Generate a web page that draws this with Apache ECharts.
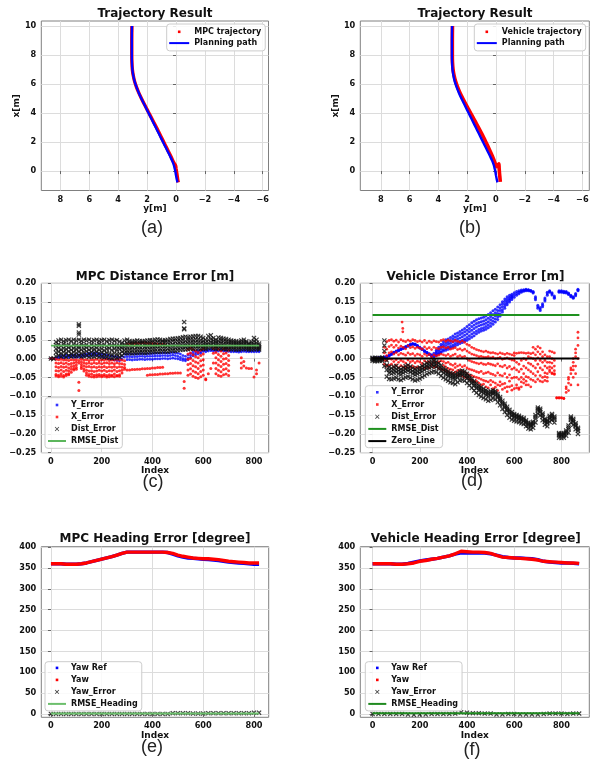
<!DOCTYPE html>
<html>
<head>
<meta charset="utf-8">
<script src="https://cdn.jsdelivr.net/npm/echarts@6/dist/echarts.min.js"></script>
<style>
  html, body { margin: 0; padding: 0; background: #ffffff; }
  #chart { width: 594px; height: 764px; }
</style>
</head>
<body>
<div id="chart"></div>
<script>
const _ = null;

// ---------- (a)/(b) trajectories: y[m] (horizontal), x[m] (vertical) ----------
const PLAN_X = [10.0, 9.0, 8.0, 7.5, 7.0, 6.6, 6.2, 5.8, 5.4, 5.0, 4.6, 4.2, 3.8, 3.4, 3.0, 2.6, 2.2, 1.8, 1.4, 1.0, 0.7, 0.4, 0.2, 0.0, -0.3, -0.6, -0.78];
const PLAN_Y = [3.05, 3.06, 3.06, 3.05, 3.02, 2.96, 2.87, 2.74, 2.58, 2.40, 2.20, 2.00, 1.80, 1.60, 1.40, 1.20, 1.00, 0.80, 0.60, 0.40, 0.26, 0.15, 0.10, 0.05, 0.0, -0.06, -0.10];
const MPC_X = [10.0, 9.0, 8.0, 7.5, 7.0, 6.6, 6.2, 5.8, 5.4, 5.0, 4.6, 4.2, 3.8, 3.4, 3.0, 2.6, 2.2, 1.8, 1.4, 1.0, 0.7, 0.5, 0.35, 0.2, 0.0, -0.3, -0.6, -0.78];
const MPC_Y = [3.05, 3.06, 3.06, 3.05, 3.02, 2.96, 2.87, 2.74, 2.58, 2.39, 2.19, 1.98, 1.77, 1.56, 1.35, 1.15, 0.95, 0.75, 0.55, 0.35, 0.21, 0.10, 0.02, 0.0, -0.03, -0.08, -0.12, -0.16];
const VEH_X = [10.0, 9.0, 8.0, 7.5, 7.0, 6.6, 6.2, 5.8, 5.4, 5.0, 4.6, 4.2, 3.8, 3.4, 3.0, 2.6, 2.2, 1.8, 1.4, 1.0, 0.7, 0.5, 0.3, 0.5, 0.2, -0.2, -0.5, -0.75];
const VEH_Y = [3.02, 3.03, 3.03, 3.02, 2.98, 2.91, 2.81, 2.67, 2.50, 2.30, 2.09, 1.87, 1.65, 1.43, 1.21, 1.00, 0.80, 0.60, 0.42, 0.24, 0.12, 0.04, -0.05, -0.20, -0.22, -0.25, -0.28, -0.30];

// ---------- (c) MPC distance error, one value per 10 samples, in mm ----------
const STEP_C = 10;
const DIST_C1 = [0,0,44,48,50,46,49,50,47,50, 48,50,47,50,48,50,46,49,50,47, 49,50,46,49,50,47,49,45,42,48, 50,47,45,47,48,47,46,47,48,49, 48,50,51,50,48,49,50,52,53,53, 54,55,57,58,57,58,59,60,60,58, 55,50,60,62,55,50,56,55,53,52, 50,48,47,46,45,48,50,46,40,45, 55,50,40];
const DIST_C2 = [_,_,36,38,34,39,35,37,33,38, 36,34,39,35,37,33,38,34,36,39, 35,37,33,38,35,36,34,33,35,38, 40,41,39,42,40,41,42,40,41,42, 43,42,44,43,45,44,43,44,46,45, 46,47,48,47,49,50,49,51,50,49, 47,42,50,52,48,44,47,48,46,45, 44,43,42,41,40,42,44,42,38,40, 46,42,35];
const DIST_C3 = [_,_,26,28,24,27,25,29,23,27, 25,28,24,26,29,23,27,25,28,24, 26,22,25,27,23,26,24,25,28,30, 31,32,30,33,31,32,33,31,32,34, 33,34,35,34,36,35,34,36,37,36, 38,39,40,39,41,42,41,43,42,41, 40,36,42,44,41,38,40,41,39,38, 38,37,36,36,35,37,38,36,33,35, 38,36,30];
const DIST_C4 = [_,_,16,18,14,17,15,19,13,17, 15,18,14,16,19,13,17,15,18,14, 16,12,15,13,11,14,12,13,18,22, 22,23,22,24,23,24,24,23,24,25, 25,26,27,26,27,27,26,28,29,28, 30,31,32,31,33,34,33,35,34,33, 33,30,35,37,34,32,33,34,32,31, 31,31,30,30,29,31,32,30,28,29, 31,30,27];
const DIST_C5 = [_,_,6,8,5,7,4,8,5,7, 6,8,5,6,8,4,6,5,7,4, 5,3,4,2,1,3,2,4,8,14, 14,15,14,15,15,16,16,15,16,17, 17,18,18,18,19,19,18,20,21,20, 22,23,24,24,25,26,26,27,27,26, 27,25,28,29,27,26,27,27,26,25, 25,25,25,24,24,25,26,25,24,24, 25,25,24];
const DIST_C_SPIKES = [[110, 91], [110, 87], [110, 69], [110, 64], [525, 97], [525, 80], [525, 78]];

const YERR_C1 = [0,0,2,6,8,7,9,8,10,9, 8,10,9,11,12,14,13,15,14,13, 12,11,10,8,7,5,4,2,6,12, 12,12,11,12,12,13,13,12,13,13, 13,14,14,14,15,15,14,15,16,15, 14,12,8,6,10,14,18,20,21,22, 23,22,24,25,24,23,24,25,24,23, 23,22,22,21,21,22,23,22,21,21, 22,22,21];
const YERR_C2 = [_,_,0,2,3,2,4,3,5,4, 3,5,4,6,7,8,7,9,8,7, 5,3,1,-1,-2,-4,-5,-6,-2,4, 5,5,4,5,5,6,6,5,6,6, 6,7,7,7,8,8,7,8,9,8, 6,3,0,-2,2,8,12,15,17,18, 19,18,20,21,20,19,20,21,20,19, 19,18,18,18,17,18,19,18,18,18, 18,18,18];
const YERR_C3 = [_,_,_,_,_,_,_,_,_,_, _,_,_,_,_,_,_,_,_,_, _,_,_,_,_,_,_,_,_,_, -3,-3,-4,-3,-3,-2,-2,-3,-2,-2, -2,-1,-1,-1,0,0,-1,0,1,0, -1,-3,-5,-6,-3,2,7,10,12,14, _,_,_,_,_,_,_,_,_,_, _,_,_,_,_,_,_,_,_,_, _,_,_];

const XERR_C1 = [0,0,-2,-3,-2,-4,-3,-5,-3,-4, -3,-5,-2,-4,-3,-5,-3,-4,-2,-5, -3,-4,-2,-5,-3,-4,-2,-3,-4,-6, 38,39,40,40,41,41,42,42,41,41, 40,40,39,38,38,37,_,_,_,_, _,_,_,_,25,28,24,20,16,22, 26,_,_,_,27,30,25,20,26,28, 22,_,_,_,_,_,_,_,_,_, _,_,_];
const XERR_C2 = [_,_,-12,-13,-11,-14,-12,-15,-13,-12, -10,-12,-9,-11,-13,-12,-14,-11,-13,-12, -14,-12,-11,-13,-12,-14,-11,-13,-14,-16, -30,-30,-29,-29,-28,-28,-27,-27,-26,-26, -25,-25,-24,-24,-23,_,_,_,_,_, _,_,_,_,12,15,10,5,2,8, 12,_,_,_,14,16,11,6,13,15, 8,_,_,_,_,2,_,_,_,_, _,_,_];
const XERR_C3 = [_,_,-22,-24,-21,-23,-22,-25,-21,-20, -17,_,-16,-19,-22,-21,-23,-22,-24,-22, -23,-21,-24,-22,-23,-21,-24,-22,-23,-24, _,_,_,_,_,_,_,_,-44,-43, -43,-42,-42,-41,-41,-40,-40,-39,-39,-38, -38,-38,_,_,-2,0,-5,-9,-12,-6, -3,-54,-40,-26,-12,2,-3,-8,-1,0, -5,_,_,_,_,-12,-8,-25,-26,-26, -49,-30,-12];
const XERR_C4 = [_,_,-32,-33,-30,-34,-31,-33,-28,-26, -24,_,-22,-27,-31,-33,-32,-34,-33,-31, -33,-31,-34,-32,-33,-30,-34,-32,-31,-28, _,_,_,_,_,_,_,_,_,_, _,_,_,_,_,_,_,_,_,_, _,_,_,_,-16,-13,-19,-22,-26,-20, -17,-56,_,_,_,-12,-17,-21,-15,-13, -18,_,_,_,_,-25,-20,_,_,_, _,-40,_];
const XERR_C5 = [_,_,-42,-44,-40,-45,-41,-43,-36,-30, -28,_,-26,-33,-38,-42,-41,-44,-43,-42, -44,-42,-45,-43,-44,-41,-45,-43,-38,_, _,_,_,_,_,_,_,_,_,_, _,_,_,_,_,_,_,_,_,_, _,_,_,_,-30,-27,-33,-36,-40,-34, -30,_,_,_,_,-26,-31,-35,-29,-27, -32,_,_,_,_,_,_,_,_,_, _,_,_];
const XERR_C6 = [_,_,-46,-48,-47,-49,-45,-40,_,_, _,_,_,_,-44,-47,-48,-49,-48,-47, -48,-47,-49,-48,-47,-48,-46,-47,_,_, _,_,_,_,_,_,_,_,_,_, _,_,_,_,_,_,_,_,_,_, _,_,_,_,-44,-41,-47,-50,-52,-48, -44,_,_,_,_,-40,-45,-47,-43,-41, -45,_,_,_,_,_,_,_,_,_, _,_,_];
const XERR_C_SPIKES = [[110, -63], [110, -85], [525, -61], [525, -79]];
const RMSE_C = 0.0345;
const END_C = 820;

// ---------- (d) vehicle distance error, one value per 10 samples, in mm ----------
const STEP_D = 10;
const YERR_D1 = [1,2,2,3,3,4,6,9,13,17, 20,23,26,29,32,35,38,40,39,35, 30,26,21,17,13,10,14,22,30,38, 45,50,52,56,60,65,68,72,76,80, 85,90,95,99,103,106,108,110,113,117, 122,127,131,137,143,151,158,164,168,171, 175,178,180,182,183,184,183,181,178,164, 142,136,146,161,176,180,175,166,_,180, 180,179,178,174,168,164,173,184];
const YERR_D2 = [0,0,1,1,2,3,5,8,12,16, 19,22,25,28,31,34,37,39,38,34, 29,25,20,16,12,8,9,14,20,26, 32,35,38,41,45,49,52,55,58,62, 66,71,75,80,84,87,89,91,94,98, 103,108,114,120,128,138,146,153,159,164, 169,173,176,179,181,182,182,180,176,160, 138,132,142,157,172,178,172,163,_,178, 178,177,176,172,166,162,170,182];
const YERR_D3 = [-1,-1,0,0,1,2,4,7,11,15, 18,21,24,27,30,33,36,38,37,33, 28,24,19,15,11,6,5,8,12,16, 20,22,25,28,31,34,37,40,43,46, 49,53,57,61,66,70,73,75,78,82, 86,91,97,104,113,124,134,143,150,157, 163,168,172,176,179,180,180,179,174,156, 134,128,138,153,168,176,169,160,_,176, 176,175,174,170,164,160,167,180];
const YERR_D4 = [_,_,_,_,_,_,_,_,_,_, _,_,_,_,_,_,_,_,_,_, _,_,_,_,_,_,_,18,25,33, 38,42,45,48,53,57,60,64,67,71, 75,80,85,89,93,96,98,100,103,107, 112,117,122,128,135,145,152,158,163,167, _,_,_,_,_,_,_,_,_,_, _,_,_,_,_,_,_,_,_,_, _,_,_,_,_,_,_,_];
const YERR_D5 = [_,_,_,_,_,_,_,_,_,_, _,_,_,_,_,_,_,_,_,_, _,_,_,_,_,_,_,10,15,19, 24,27,30,33,36,40,43,46,49,52, 56,61,65,69,73,77,80,82,85,89, 94,99,105,111,119,130,140,148,155,161, _,_,_,_,_,_,_,_,_,_, _,_,_,_,_,_,_,_,_,_, _,_,_,_,_,_,_,_];

const XERR_D1 = [0,0,1,0,2,30,45,48,50,46, 49,44,50,47,45,49,46,50,48,45, 47,44,48,42,46,43,47,45,44,48, 50,46,49,47,45,48,46,44,47,43, 38,35,30,27,24,22,20,18,20,17, 15,16,14,12,15,13,11,14,12,10, 15,14,15,16,15,14,15,13,30,25, 32,28,18,10,5,20,18,15,-105,-104, -105,-106,-90,-65,-40,-10,25,70];
const XERR_D2 = [_,_,_,_,_,15,25,32,36,30, 35,28,33,30,26,34,29,31,27,30, 28,25,31,26,29,24,30,27,26,30, 31,28,30,25,27,29,24,26,22,25, 20,16,12,10,8,5,6,4,3,5, 2,4,0,1,3,-2,0,2,-1,-4, 8,-10,-15,-5,0,-3,5,2,15,10, 18,12,5,-5,-10,5,0,-5,-104,-105, -104,-106,-75,-55,-30,0,15,55];
const XERR_D3 = [_,_,_,_,_,-5,8,15,18,12, 16,10,14,12,9,15,11,13,8,12, 10,6,12,8,11,5,10,7,9,12, 10,8,11,6,9,12,5,8,4,6, 0,-5,-8,-10,-12,-14,-12,-15,-16,-13, -15,-17,-19,-14,-20,-22,-18,-25,-21,-28, -5,-30,-35,-28,-20,-25,-12,-15,0,-5, 2,-5,-10,-20,-25,-10,-12,-20,_,_, _,_,-80,-50,-25,-20,5,35];
const XERR_D4 = [_,_,_,_,_,-15,-5,0,-2,-8, -3,-10,-5,-8,-12,-4,-9,-6,-11,-7, -9,-13,-6,-10,-8,-14,-7,-11,-9,-6, -8,-12,-10,-15,-18,-14,-20,-17,-22,-19, -25,-28,-30,-32,-35,-37,-34,-40,-38,-36, -40,-42,-45,-38,-44,-46,-40,-50,-43,-52, -25,-50,-55,-50,-40,-48,-30,-35,-20,-25, -15,-25,-30,-38,-40,-22,-25,-32,_,_, _,_,_,-85,-70,-30,-20,0];
const XERR_D5 = [_,_,_,_,_,_,-20,-18,-15,-22, -17,-24,-19,-22,-25,-18,-23,-20,-25,-22, -24,-20,-26,-22,-25,-18,-23,-21,-26,-28, -30,-33,-35,-38,-40,-36,-44,-42,-46,-50, -50,-55,-58,-62,-60,-65,-70,-68,-75,-78, -70,-80,-76,-85,-72,-82,-78,-88,-75,-84, -50,-70,-78,-75,-65,-70,-50,-55,-40,-45, -35,-45,-50,-58,-60,-35,-40,-42,_,_, _,_,_,_,_,-50,-40,-70];
const XERR_D6 = [_,_,_,_,_,_,_,_,_,_, _,_,_,_,_,_,_,_,_,_, _,_,_,_,_,_,_,_,_,_, -18,-22,-26,-28,-30,-24,-32,-30,-34,-36, -40,-43,-45,-48,-50,-52,-55,-58,-60,-62, -58,-62,-65,-70,-62,-68,-66,-75,-60,-72, -80,-78,-82,-62,-55,-60,-70,-75,-58,-62, -55,-60,-62,-48,-50,-30,-38,-40,_,_, _,_,_,_,_,_,_,_];
const XERR_D_SPIKES = [[125, 97], [128, 80], [128, 71]];

const DIST_D1 = [2,2,1,2,3,48,-5,-22,-25,-22, -20,-25,-28,-24,-20,-18,-21,-25,-28,-26, -24,-20,-16,-12,-10,-8,-6,-8,-12,-18, -25,-29,-34,-38,-40,-42,-38,-34,-32,-34, -40,-46,-53,-60,-66,-72,-76,-80,-84,-88, -87,-84,-86,-94,-102,-112,-120,-128,-136,-142, -147,-150,-152,-156,-158,-164,-170,-172,-168,-150, -130,-133,-146,-160,-164,-152,-147,-154,_,-198, -199,-198,-191,-178,-154,-160,-172,-184];
const DIST_D2 = [0,-1,-1,-1,0,35,-18,-30,-32,-30, -28,-32,-35,-31,-28,-26,-29,-33,-36,-34, -31,-27,-23,-19,-17,-15,-13,-15,-19,-25, -31,-35,-40,-44,-46,-49,-44,-40,-38,-40, -46,-52,-59,-66,-72,-78,-82,-86,-90,-94, -92,-89,-91,-99,-107,-117,-125,-133,-141,-147, -151,-154,-156,-160,-162,-168,-174,-176,-172,-155, -134,-137,-150,-164,-168,-156,-151,-158,_,-201, -202,-201,-195,-183,-158,-164,-176,-188];
const DIST_D3 = [-2,-3,-3,-3,-2,20,-30,-38,-40,-38, -36,-40,-42,-38,-35,-33,-36,-40,-43,-41, -38,-34,-30,-26,-24,-22,-20,-22,-26,-32, -38,-42,-46,-50,-52,-55,-50,-45,-44,-46, -52,-58,-65,-72,-78,-84,-88,-92,-96,-100, -98,-94,-96,-104,-112,-122,-130,-138,-146,-152, -156,-158,-160,-164,-166,-172,-178,-180,-176,-160, -138,-142,-155,-168,-172,-160,-155,-162,_,-204, -205,-204,-198,-188,-162,-168,-180,-192];
const DIST_D4 = [-6,-7,-7,-6,-6,-20,-48,-54,-55,-53, -51,-55,-57,-53,-50,-48,-51,-55,-58,-56, -53,-49,-45,-41,-38,-36,-34,-36,-40,-46, -51,-55,-59,-63,-65,-68,-63,-58,-57,-59, -65,-71,-78,-85,-91,-97,-101,-105,-108,-112, -110,-106,-108,-116,-124,-134,-142,-150,-157,-162, -165,-167,-169,-172,-174,-180,-186,-188,-184,-170, -146,-151,-164,-176,-180,-168,-163,-170,_,-210, -211,-210,-205,-197,-170,-176,-188,-200];
const RMSE_D = 0.1155;
const END_D = 876;

// ---------- (e)/(f) heading, degrees ----------
const STEP_E = 20;
const YAW_REF_E = [360,360,360,359,359,359,360,362,365,368, 371,374,377,381,385,388,388,388,388,388, 388,388,388,387,383,379,376,374,373,372, 371,370,369,368,366,364,363,362,361,360, 359,359];
const YAW_E = [360,360,360,359,359,359,360,362,365,368, 371,374,377,381,385,388,388,388,388,388, 388,388,388,387,385,381,378,376,374,373, 372,372,371,370,368,366,365,364,363,362, 362,362];
const YAW_ERR_E = [0,0,0,0,0,0,0,0,0,0, 0,0,0,0,0,0,0,0,0,0, 0,0,0,0,2,2,2,2,1,1, 1,2,2,2,2,2,2,2,2,2, 3,3];
const RMSE_E = 1.3;

const STEP_F = 25;
const YAW_REF_F = [360,360,360,360,359,359,361,364,367,369, 371,373,376,379,383,386,386,386,386,386, 384,381,377,375,374,374,373,372,370,366, 364,363,362,362,361,360];
const YAW_F = [360,360,360,360,359,359,360,362,366,368, 371,373,376,379,384,390,389,388,388,387, 385,380,376,375,374,373,372,371,369,366, 365,364,363,362,362,361];
const YAW_ERR_F = [0,0,0,0,0,0,-1,-2,-1,-1, 0,0,0,0,1,4,3,2,2,1, 1,-1,-1,0,0,-1,-1,-1,-1,0, 1,1,1,0,1,1];
const RMSE_F = 1.5;

// ---------- tick labels ----------
const TICKS_TRAJ_H = [8, 6, 4, 2, 0, -2, -4, -6];
const TICKS_TRAJ_V = [0, 2, 4, 6, 8, 10];
const TICKS_INDEX = [0, 200, 400, 600, 800];
const TICKS_DIST = [-0.25, -0.2, -0.15, -0.1, -0.05, 0, 0.05, 0.1, 0.15, 0.2];
const TICKS_HEAD = [0, 50, 100, 150, 200, 250, 300, 350, 400];

const TITLES = ['Trajectory Result', 'Trajectory Result', 'MPC Distance Error [m]', 'Vehicle Distance Error [m]', 'MPC Heading Error [degree]', 'Vehicle Heading Error [degree]'];
const CAPTIONS = ['(a)', '(b)', '(c)', '(d)', '(e)', '(f)'];

// ---------- helpers ----------
const FONT = 'DejaVu Sans';
const BLUE = '#0000ff', RED = '#ff0000', BLACK = '#000000';
const minus = s => String(s).replace('-', '\u2212');

function layerPoints(step, layers) {
  const out = [];
  layers.forEach(layer => layer.forEach((v, i) => { if (v !== null) out.push([i * step, v / 1000]); }));
  return out;
}
const mm = list => list.map(p => [p[0], p[1] / 1000]);
const zip = (a, b) => a.map((v, i) => [v, b[i]]);
const series1d = (step, arr) => arr.map((v, i) => [i * step, v]);

// filled "x" marker
const XMARK = 'path://M0,0.85L0.85,0L2.5,1.65L4.15,0L5,0.85L3.35,2.5L5,4.15L4.15,5L2.5,3.35L0.85,5L0,4.15L1.65,2.5Z';
function dotIcon(w, h) {
  const cx = w / 2, cy = h / 2, r = 1.3;
  return `path://M0,0M${w},${h}M${cx - r},${cy - r}L${cx + r},${cy - r}L${cx + r},${cy + r}L${cx - r},${cy + r}Z`;
}
function xIcon(w, h) {
  const cx = w / 2, cy = h / 2, s = 2.2, t = 0.55;
  return `path://M0,0M${w},${h}M${cx - s},${cy - s + t}L${cx - s + t},${cy - s}L${cx},${cy - t}L${cx + s - t},${cy - s}L${cx + s},${cy - s + t}L${cx + t},${cy}L${cx + s},${cy + s - t}L${cx + s - t},${cy + s}L${cx},${cy + t}L${cx - s + t},${cy + s}L${cx - s},${cy + s - t}L${cx - t},${cy}Z`;
}
function lineIcon(w, h, th) {
  const y0 = h / 2 - th / 2, y1 = h / 2 + th / 2;
  return `path://M0,0M${w},${h}M0,${y0}L${w},${y0}L${w},${y1}L0,${y1}Z`;
}

const GRIDS = [
  { left: 41.3, top: 21, width: 227.2, height: 169.5 },
  { left: 360.3, top: 21, width: 229, height: 169.5 },
  { left: 41.3, top: 283.3, width: 227.4, height: 169.4 },
  { left: 360.3, top: 283.3, width: 229, height: 169.4 },
  { left: 41.3, top: 546.7, width: 227.4, height: 170.6 },
  { left: 360.3, top: 546.7, width: 229, height: 170.6 }
];

function axis(gridIndex, range, ticks, fmt, name, nameGap, inverse) {
  return {
    type: 'value', gridIndex, min: range[0], max: range[1], inverse: !!inverse,
    name, nameLocation: 'middle', nameGap,
    nameTextStyle: { fontFamily: FONT, fontWeight: 'bold', fontSize: 9, color: '#111' },
    axisLine: { show: false },
    axisTick: { show: true, length: 3, lineStyle: { color: '#666' }, customValues: ticks },
    axisLabel: { show: true, margin: 5, customValues: ticks, formatter: fmt, fontFamily: FONT, fontWeight: 'bold', fontSize: 8.2, color: '#111' },
    splitLine: { show: true, lineStyle: { color: '#dcdcdc', width: 1 } }
  };
}
const fmtInt = v => minus(Math.round(v));
const fmtDist = v => minus(v.toFixed(2));

function legend(names, icons, colors, left, top, w, gap, padding) {
  return {
    show: true, orient: 'vertical', left, top, itemWidth: w, itemHeight: 8, itemGap: gap, padding,
    selectedMode: false, backgroundColor: 'rgba(255,255,255,0.85)',
    borderColor: '#cccccc', borderWidth: 1, borderRadius: 3,
    itemStyle: { borderWidth: 0 },
    formatter: n => n.split('#')[0],
    textStyle: { fontFamily: FONT, fontWeight: 'bold', fontSize: 8, color: '#111' },
    data: names.map((n, i) => ({ name: n, icon: icons[i], itemStyle: { color: colors[i], borderWidth: 0 } }))
  };
}

function scatter(name, axisIdx, data, symbol, size, color) {
  return { type: 'scatter', name, xAxisIndex: axisIdx, yAxisIndex: axisIdx, data, symbol, symbolSize: size,
           itemStyle: { color }, silent: true, animation: false };
}
function line(name, axisIdx, data, color, width, smooth) {
  return { type: 'line', name, xAxisIndex: axisIdx, yAxisIndex: axisIdx, data, showSymbol: false, symbol: 'none',
           smooth: smooth || false, lineStyle: { color, width }, itemStyle: { color }, silent: true, animation: false };
}

const GREEN_C = '#5cb65c', GREEN_D = '#1f911f', GREEN_E = '#6cbf6c', GREEN_F = '#1f8a1f';

const series = [
  // (a)
  line('MPC trajectory#a', 0, zip(MPC_Y, MPC_X), RED, 3.4, 0.3),
  line('Planning path#a', 0, zip(PLAN_Y, PLAN_X), BLUE, 2.4, 0.3),
  // (b)
  line('Vehicle trajectory#b', 1, zip(VEH_Y, VEH_X), RED, 3.6, 0.3),
  line('Planning path#b', 1, zip(PLAN_Y, PLAN_X), BLUE, 2.4, 0.3),
  // (c)
  scatter('Y_Error#c', 2, layerPoints(STEP_C, [YERR_C1, YERR_C2, YERR_C3]), 'circle', 2.8, BLUE),
  scatter('X_Error#c', 2, layerPoints(STEP_C, [XERR_C1, XERR_C2, XERR_C3, XERR_C4, XERR_C5, XERR_C6]).concat(mm(XERR_C_SPIKES)), 'circle', 3, RED),
  scatter('Dist_Error#c', 2, layerPoints(STEP_C, [DIST_C1, DIST_C2, DIST_C3, DIST_C4, DIST_C5]).concat(mm(DIST_C_SPIKES)), XMARK, 5, '#111'),
  line('RMSE_Dist#c', 2, [[0, RMSE_C], [END_C, RMSE_C]], GREEN_C, 1.8),
  // (d)
  scatter('Y_Error#d', 3, layerPoints(STEP_D, [YERR_D1, YERR_D2, YERR_D3, YERR_D4, YERR_D5]), 'circle', 3, BLUE),
  scatter('X_Error#d', 3, layerPoints(STEP_D, [XERR_D1, XERR_D2, XERR_D3, XERR_D4, XERR_D5, XERR_D6]).concat(mm(XERR_D_SPIKES)), 'circle', 2.8, RED),
  scatter('Dist_Error#d', 3, layerPoints(STEP_D, [DIST_D1, DIST_D2, DIST_D3, DIST_D4]), XMARK, 5, '#111'),
  line('RMSE_Dist#d', 3, [[0, RMSE_D], [END_D, RMSE_D]], GREEN_D, 2),
  line('Zero_Line#d', 3, [[0, 0], [END_D, 0]], BLACK, 2),
  // (e)
  line('Yaw Ref#e', 4, series1d(STEP_E, YAW_REF_E), BLUE, 3.4),
  line('Yaw#e', 4, series1d(STEP_E, YAW_E), RED, 3.4),
  scatter('Yaw_Error#e', 4, series1d(STEP_E, YAW_ERR_E), XMARK, 5, '#111'),
  line('RMSE_Heading#e', 4, [[0, RMSE_E], [END_C, RMSE_E]], GREEN_E, 2),
  // (f)
  line('Yaw Ref#f', 5, series1d(STEP_F, YAW_REF_F), BLUE, 3.4),
  line('Yaw#f', 5, series1d(STEP_F, YAW_F), RED, 3.4),
  scatter('Yaw_Error#f', 5, series1d(STEP_F, YAW_ERR_F), XMARK, 5, '#111'),
  line('RMSE_Heading#f', 5, [[0, RMSE_F], [END_D, RMSE_F]], GREEN_F, 2)
];

const W20 = 20, W18 = 18;
const legends = [
  legend(['MPC trajectory#a', 'Planning path#a'], [dotIcon(W20, 8), lineIcon(W20, 8, 2)], [RED, BLUE], 166.7, 24, W20, 3.3, [3.8, 4, 3.8, 2.5]),
  legend(['Vehicle trajectory#b', 'Planning path#b'], [dotIcon(W20, 8), lineIcon(W20, 8, 2)], [RED, BLUE], 474.3, 24, W20, 3.3, [3.8, 4, 3.8, 2.5]),
  legend(['Y_Error#c', 'X_Error#c', 'Dist_Error#c', 'RMSE_Dist#c'], [dotIcon(W18, 8), dotIcon(W18, 8), xIcon(W18, 8), lineIcon(W18, 8, 2)], [BLUE, RED, '#111', GREEN_C], 45, 397.7, W18, 4, [3.3, 4, 3.3, 3]),
  legend(['Y_Error#d', 'X_Error#d', 'Dist_Error#d', 'RMSE_Dist#d', 'Zero_Line#d'], [dotIcon(W18, 8), dotIcon(W18, 8), xIcon(W18, 8), lineIcon(W18, 8, 2), lineIcon(W18, 8, 2)], [BLUE, RED, '#111', GREEN_D, BLACK], 365.3, 385.7, W18, 4.2, [2.6, 4, 2.6, 3]),
  legend(['Yaw Ref#e', 'Yaw#e', 'Yaw_Error#e', 'RMSE_Heading#e'], [dotIcon(W18, 8), dotIcon(W18, 8), xIcon(W18, 8), lineIcon(W18, 8, 2)], [BLUE, RED, '#111', GREEN_E], 45, 661.7, W18, 4, [2.2, 4, 3, 3]),
  legend(['Yaw Ref#f', 'Yaw#f', 'Yaw_Error#f', 'RMSE_Heading#f'], [dotIcon(W18, 8), dotIcon(W18, 8), xIcon(W18, 8), lineIcon(W18, 8, 2)], [BLUE, RED, '#111', GREEN_F], 365.3, 661.7, W18, 4, [2.2, 4, 3, 3])
];

const TITLE_POS = [[155, 13.5], [475, 13.5], [155, 276.7], [475.5, 276.7], [155, 539.2], [475.8, 539.2]];
const CAPTION_POS = [[152, 228], [470, 228], [153, 482], [472, 481], [152, 747], [472, 750]];
const graphic = [];
TITLES.forEach((t, i) => graphic.push({
  type: 'text', x: TITLE_POS[i][0], y: TITLE_POS[i][1], silent: true,
  style: { text: t, font: `bold 12px "${FONT}"`, fill: '#111', align: 'center', verticalAlign: 'middle' }
}));
CAPTIONS.forEach((t, i) => graphic.push({
  type: 'text', x: CAPTION_POS[i][0], y: CAPTION_POS[i][1], silent: true,
  style: { text: t, font: '18px "Liberation Sans"', fill: '#222', align: 'center', verticalAlign: 'middle' }
}));

const option = {
  animation: false,
  backgroundColor: '#ffffff',
  grid: GRIDS.map(g => Object.assign({ show: true, borderColor: '#808080', borderWidth: 1, backgroundColor: 'transparent', containLabel: false }, g)),
  xAxis: [
    axis(0, [-6.40, 9.32], TICKS_TRAJ_H, fmtInt, 'y[m]', 13, true),
    axis(1, [-6.48, 9.42], TICKS_TRAJ_H, fmtInt, 'y[m]', 13, true),
    axis(2, [-38, 858], TICKS_INDEX, fmtInt, 'Index', 13),
    axis(3, [-52, 918], TICKS_INDEX, fmtInt, 'Index', 13),
    axis(4, [-38, 858], TICKS_INDEX, fmtInt, 'Index', 13),
    axis(5, [-52, 918], TICKS_INDEX, fmtInt, 'Index', 13)
  ],
  yAxis: [
    axis(0, [-1.34, 10.34], TICKS_TRAJ_V, fmtInt, 'x[m]', 11),
    axis(1, [-1.34, 10.34], TICKS_TRAJ_V, fmtInt, 'x[m]', 11),
    axis(2, [-0.25, 0.2], TICKS_DIST, fmtDist, '', 0),
    axis(3, [-0.25, 0.2], TICKS_DIST, fmtDist, '', 0),
    axis(4, [-8, 401], TICKS_HEAD, fmtInt, '', 0),
    axis(5, [-8, 401], TICKS_HEAD, fmtInt, '', 0)
  ],
  legend: legends,
  graphic,
  series
};

const chart = echarts.init(document.getElementById('chart'), null, { renderer: 'canvas', width: 594, height: 764 });
chart.setOption(option);
</script>
</body>
</html>
